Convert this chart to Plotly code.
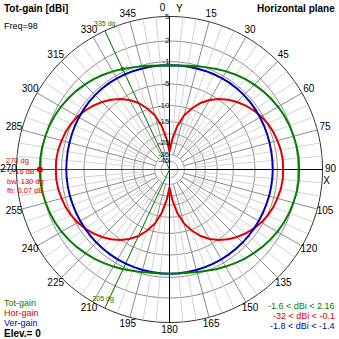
import numpy as np
import plotly.graph_objects as go

# Horizontal-plane pattern, elevation 0, sampled every 5 deg (0 = +Y, clockwise)
azimuth = list(range(0, 360, 5))

tot_gain = [-1.60, -1.55, -1.41, -1.17, -0.87, -0.51, -0.15, 0.20, 0.54, 0.83,
            1.11, 1.36, 1.59, 1.77, 1.92, 2.01, 2.11, 2.16, 2.16, 2.16,
            2.10, 1.97, 1.85, 1.68, 1.47, 1.22, 0.94, 0.64, 0.34, 0.00,
            -0.34, -0.67, -1.01, -1.26, -1.47, -1.57, -1.60,
            -1.57, -1.47, -1.26, -1.01, -0.67, -0.34, 0.00, 0.34, 0.64, 0.94,
            1.22, 1.47, 1.68, 1.85, 1.97, 2.10, 2.16, 2.16, 2.16, 2.11,
            2.01, 1.92, 1.77, 1.59, 1.36, 1.11, 0.83, 0.54, 0.20, -0.15,
            -0.51, -0.87, -1.17, -1.41, -1.55]

hor_gain = [-32.0, -23.0, -16.5, -12.3, -9.7, -7.6, -6.1, -4.9, -3.9, -3.1,
            -2.4, -1.8, -1.3, -0.9, -0.6, -0.4, -0.2, -0.1, -0.1, -0.1,
            -0.2, -0.4, -0.6, -0.9, -1.3, -1.8, -2.4, -3.1, -3.9, -4.9,
            -6.1, -7.6, -9.7, -12.3, -16.5, -23.0, -32.0,
            -23.0, -16.5, -12.3, -9.7, -7.6, -6.1, -4.9, -3.9, -3.1, -2.4,
            -1.8, -1.3, -0.9, -0.6, -0.4, -0.2, -0.1, -0.1, -0.1, -0.2,
            -0.4, -0.6, -0.9, -1.3, -1.8, -2.4, -3.1, -3.9, -4.9, -6.1,
            -7.6, -9.7, -12.3, -16.5, -23.0]

ver_gain = [-1.60, -1.58, -1.55, -1.52, -1.48, -1.45, -1.42, -1.40, -1.40, -1.42,
            -1.45, -1.50, -1.55, -1.60, -1.65, -1.70, -1.73, -1.75, -1.75, -1.76,
            -1.77, -1.78, -1.80, -1.80, -1.79, -1.78, -1.76, -1.74, -1.72, -1.70,
            -1.68, -1.66, -1.64, -1.62, -1.61, -1.60, -1.60,
            -1.60, -1.61, -1.62, -1.64, -1.66, -1.68, -1.70, -1.72, -1.74, -1.76,
            -1.78, -1.79, -1.80, -1.80, -1.78, -1.77, -1.76, -1.75, -1.75, -1.73,
            -1.70, -1.65, -1.60, -1.55, -1.50, -1.45, -1.42, -1.40, -1.40, -1.42,
            -1.45, -1.48, -1.52, -1.55, -1.58]

# dBi rings and their labels (the -20 ring carries no label)
ring_db = [5, 2, -1, -5, -10, -15, -20, -25, -35, -45]
ring_text = ["5", "2", "-1", "-5", "-10", "-15", "", "-25", "-35", "-45"]
angle_ticks = list(range(0, 360, 15))

# Max-gain marker and -3 dB beam-width directions
max_az, max_db = 270, 2.16
bw_az = [335, 205]
bw_text = ["335 dg", "205 dg"]

GREEN, RED, BLUE = "#008000", "#e00000", "#0000b4"
FONT = "Liberation Sans, Arial, sans-serif"
W = H = 339
R_PX = 153.0                      # pixel radius of the 5 dBi ring
RMAX = (W / 2) / R_PX             # radial range so the plot fills the page


def arrl(db):
    """ARRL log-periodic radial scale: 0.89 per 2 dB below the 5 dBi ring."""
    return 0.89 ** ((5.0 - np.asarray(db, dtype=float)) / 2.0)


def closed(a):
    return list(a) + [a[0]]


fig = go.Figure()
circle = list(range(0, 361, 2))

# rings
for db in ring_db:
    outer = db == ring_db[0]
    fig.add_trace(go.Scatterpolar(
        r=[float(arrl(db))] * len(circle), theta=circle, mode="lines",
        line=dict(color="#303030" if outer else "#8c8c8c", width=1),
        hoverinfo="skip"))

# spokes: light every 5 deg, darker every 15 deg
minor_t, minor_r, major_t, major_r = [], [], [], []
for a in range(0, 360, 5):
    if a % 90 == 0:
        continue
    if a % 15:
        minor_t += [a, a, None]
        minor_r += [float(arrl(-25)), 1.0, None]
    else:
        major_t += [a, a, None]
        major_r += [float(arrl(-35)), 1.0, None]
fig.add_trace(go.Scatterpolar(r=minor_r, theta=minor_t, mode="lines",
                              line=dict(color="#d2d2d2", width=1), hoverinfo="skip"))
fig.add_trace(go.Scatterpolar(r=major_r, theta=major_t, mode="lines",
                              line=dict(color="#8c8c8c", width=1), hoverinfo="skip"))

# X / Y axes
fig.add_trace(go.Scatterpolar(r=[1, 0, 1], theta=[0, 0, 180], mode="lines",
                              line=dict(color="black", width=1), hoverinfo="skip"))
fig.add_trace(go.Scatterpolar(r=[0, 1], theta=[90, 90], mode="lines",
                              line=dict(color="black", width=1), hoverinfo="skip"))

# beam-width lines
for az in bw_az:
    fig.add_trace(go.Scatterpolar(r=[0, 1], theta=[az, az], mode="lines",
                                  line=dict(color=GREEN, width=1), hoverinfo="skip"))

# max-gain direction line
fig.add_trace(go.Scatterpolar(r=[0, RMAX], theta=[max_az, max_az], mode="lines",
                              line=dict(color=RED, width=1), hoverinfo="skip"))

# pattern curves
for vals, col in [(hor_gain, RED), (ver_gain, BLUE), (tot_gain, GREEN)]:
    fig.add_trace(go.Scatterpolar(
        r=closed(arrl(vals).tolist()), theta=closed(azimuth), mode="lines",
        line=dict(color=col, width=2), hoverinfo="skip"))

# markers on the total-gain curve
fig.add_trace(go.Scatterpolar(r=[float(arrl(max_db))], theta=[max_az], mode="markers",
                              marker=dict(color=RED, size=6), hoverinfo="skip"))
bw_gain = tot_gain[azimuth.index(bw_az[0])]
fig.add_trace(go.Scatterpolar(r=[float(arrl(bw_gain))], theta=[bw_az[0]], mode="markers",
                              marker=dict(color=GREEN, size=4), hoverinfo="skip"))

# ring labels along the +Y axis
fig.add_trace(go.Scatterpolar(
    r=arrl(ring_db).tolist(), theta=[0] * len(ring_db), mode="text",
    text=ring_text, textposition="middle left", cliponaxis=False,
    textfont=dict(family=FONT, size=8, color="#202020"), hoverinfo="skip"))

# azimuth labels
lab_t = [357.5 if a == 0 else a for a in angle_ticks]
fig.add_trace(go.Scatterpolar(
    r=[1.052] * len(angle_ticks), theta=lab_t, mode="text",
    text=[str(a) for a in angle_ticks], cliponaxis=False,
    textfont=dict(family=FONT, size=10, color="black"), hoverinfo="skip"))
fig.add_trace(go.Scatterpolar(
    r=[1.045, 1.03], theta=[3.5, 94.5], mode="text", text=["Y", "X"], cliponaxis=False,
    textfont=dict(family=FONT, size=10, color="black"), hoverinfo="skip"))

# beam-width labels
fig.add_trace(go.Scatterpolar(
    r=[1.04, 0.955], theta=[336, 207], mode="text", text=bw_text, cliponaxis=False,
    textfont=dict(family=FONT, size=7, color=GREEN), hoverinfo="skip"))


def px(x, y):
    return x / W, 1 - y / H


ann = []


def note(x, y, text, color="black", size=9, anchor="left"):
    ax, ay = px(x, y)
    ann.append(dict(x=ax, y=ay, xref="paper", yref="paper", text=text,
                    showarrow=False, xanchor=anchor, yanchor="middle",
                    font=dict(family=FONT, size=size, color=color)))


note(2, 8, "<b>Tot-gain [dBi]</b>", size=10)
note(2, 26, "Freq=98", size=9)
note(337, 8, "<b>Horizontal plane</b>", size=10, anchor="right")

note(4, 161, "270 dg", RED, 7.5)
note(7, 171, "2.16 dB", RED, 7.5)
note(5, 181, "bw: 130 dg", RED, 7.5)
note(5, 190, "fb: 0.07 dB", RED, 7.5)

note(2, 303, "Tot-gain", GREEN, 9)
note(2, 313, "Hor-gain", RED, 9)
note(2, 323, "Ver-gain", BLUE, 9)
note(2, 333, "<b>Elev.= 0</b>", size=10)

note(337, 306, "-1.6 &lt; dBi &lt; 2.16", GREEN, 9, "right")
note(337, 316, "-32 &lt; dBi &lt; -0.1", RED, 9, "right")
note(337, 326, "-1.8 &lt; dBi &lt; -1.4", BLUE, 9, "right")

fig.update_layout(
    width=W, height=H, margin=dict(l=0, r=0, t=0, b=0),
    paper_bgcolor="white", showlegend=False, annotations=ann,
    polar=dict(
        domain=dict(x=[0, 1], y=[0, 1]), bgcolor="white",
        radialaxis=dict(range=[0, RMAX], visible=False, showgrid=False),
        angularaxis=dict(rotation=90, direction="clockwise", visible=False,
                         showgrid=False, showline=False),
    ),
)

fig.write_html("out.html")
